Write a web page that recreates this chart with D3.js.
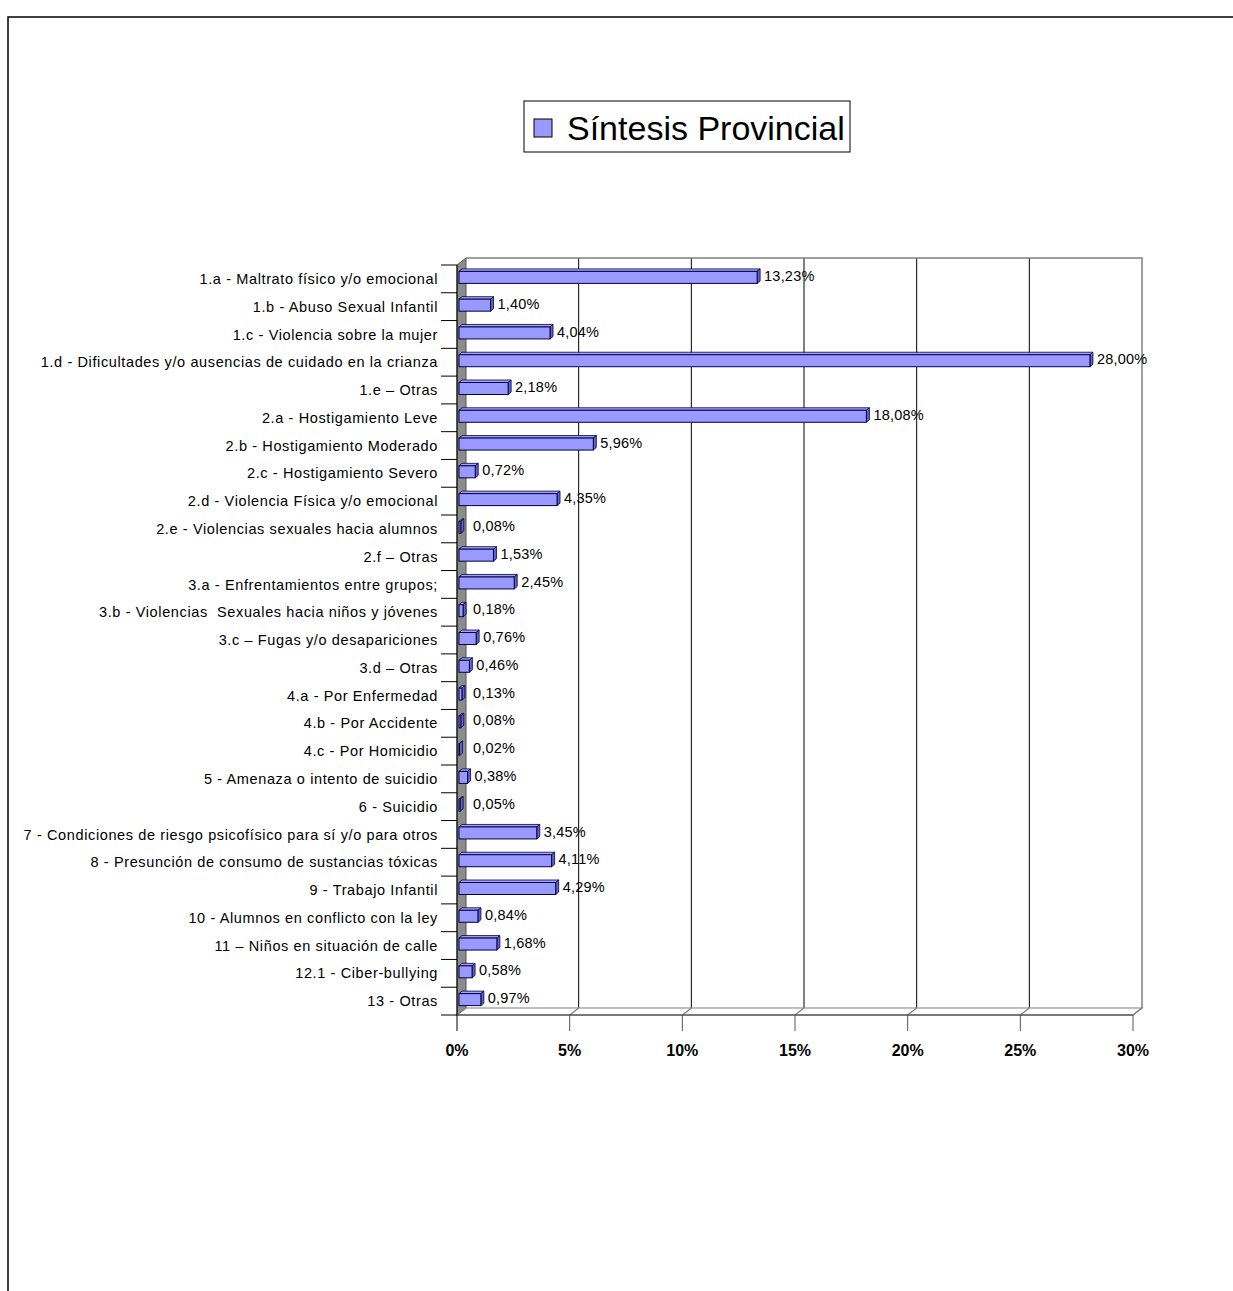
<!DOCTYPE html>
<html>
<head>
<meta charset="utf-8">
<script src="https://cdn.jsdelivr.net/npm/d3@7"></script>
<style>
  body { margin: 0; background: #fff; }
  svg { font-family: "Liberation Sans", Arial, sans-serif; }
</style>
</head>
<body>
<div class="svgcontainer"></div>
<script>
const categories = [
  "1.a - Maltrato físico y/o emocional",
  "1.b - Abuso Sexual Infantil",
  "1.c - Violencia sobre la mujer",
  "1.d - Dificultades y/o ausencias de cuidado en la crianza",
  "1.e \u2013 Otras",
  "2.a - Hostigamiento Leve",
  "2.b - Hostigamiento Moderado",
  "2.c - Hostigamiento Severo",
  "2.d - Violencia Física y/o emocional",
  "2.e - Violencias sexuales hacia alumnos",
  "2.f \u2013 Otras",
  "3.a - Enfrentamientos entre grupos;",
  "3.b - Violencias\u00a0 Sexuales hacia niños y jóvenes",
  "3.c \u2013 Fugas y/o desapariciones",
  "3.d \u2013 Otras",
  "4.a - Por Enfermedad",
  "4.b - Por Accidente",
  "4.c - Por Homicidio",
  "5 - Amenaza o intento de suicidio",
  "6 - Suicidio",
  "7 - Condiciones de riesgo psicofísico para sí y/o para otros",
  "8 - Presunción de consumo de sustancias tóxicas",
  "9 - Trabajo Infantil",
  "10 - Alumnos en conflicto con la ley",
  "11 \u2013 Niños en situación de calle",
  "12.1 - Ciber-bullying",
  "13 - Otras"
];
const values = [13.23, 1.40, 4.04, 28.00, 2.18, 18.08, 5.96, 0.72, 4.35, 0.08, 1.53, 2.45, 0.18,
  0.76, 0.46, 0.13, 0.08, 0.02, 0.38, 0.05, 3.45, 4.11, 4.29, 0.84, 1.68, 0.58, 0.97];
const xTicks = [0, 5, 10, 15, 20, 25, 30];
const seriesName = "Síntesis Provincial";

const W = 1233, H = 1291;
const svg = d3.select('.svgcontainer').append('svg')
  .attr('width', W).attr('height', H);

// outer frame (only top and left edges are visible)
svg.append('path').attr('d', `M8,${H} L8,17 L${W},17`)
  .attr('fill', 'none').attr('stroke', '#000').attr('stroke-width', 1.5);

// scales
const x = d3.scaleLinear().domain([0, 30]).range([457, 1133]);
const y = d3.scaleBand().domain(categories).range([265, 1015]);
const dx = 9, dy = -7;   // depth of the 3d box
const top0 = y.range()[0], bot0 = y.range()[1];

// left wall
svg.append('polygon')
  .attr('points', [[x(0), top0], [x(0) + dx, top0 + dy], [x(0) + dx, bot0 + dy], [x(0), bot0]].join(' '))
  .attr('fill', '#8c8c8c').attr('stroke', '#555');

// back wall gridlines
svg.selectAll('.grid').data(xTicks.slice(1, -1)).enter().append('line')
  .attr('x1', d => x(d) + dx).attr('x2', d => x(d) + dx)
  .attr('y1', top0 + dy).attr('y2', bot0 + dy)
  .attr('stroke', '#000');

// back wall outline (top + right)
svg.append('path')
  .attr('d', `M${x(0) + dx},${top0 + dy} L${x(30) + dx},${top0 + dy} L${x(30) + dx},${bot0 + dy}`)
  .attr('fill', 'none').attr('stroke', '#808080').attr('stroke-width', 1.5);

// floor
svg.append('polygon')
  .attr('points', [[x(0), bot0], [x(0) + dx, bot0 + dy], [x(30) + dx, bot0 + dy], [x(30), bot0]].join(' '))
  .attr('fill', '#fff').attr('stroke', '#808080').attr('stroke-width', 1.2);
svg.selectAll('.floorline').data(xTicks.slice(1)).enter().append('line')
  .attr('x1', d => x(d)).attr('x2', d => x(d) + dx)
  .attr('y1', bot0).attr('y2', bot0 + dy)
  .attr('stroke', '#808080').attr('stroke-width', 1.2);

// category axis line + ticks
svg.append('line').attr('x1', x(0)).attr('x2', x(0)).attr('y1', top0).attr('y2', bot0)
  .attr('stroke', '#000');
const bounds = categories.map(c => y(c)).concat([bot0]);
svg.selectAll('.ytick').data(bounds).enter().append('line')
  .attr('x1', 441).attr('x2', x(0)).attr('y1', d => d).attr('y2', d => d)
  .attr('stroke', '#000');
svg.append('line').attr('x1', x(0)).attr('x2', x(30)).attr('y1', bot0).attr('y2', bot0)
  .attr('stroke', '#333');

// value axis ticks and labels
svg.selectAll('.xtick').data(xTicks).enter().append('line')
  .attr('x1', d => x(d)).attr('x2', d => x(d)).attr('y1', bot0).attr('y2', bot0 + 16)
  .attr('stroke', d => d === 0 ? '#000' : '#555');
svg.selectAll('.xlab').data(xTicks).enter().append('text')
  .attr('x', d => x(d)).attr('y', bot0 + 41)
  .attr('text-anchor', 'middle').attr('font-size', 16).attr('font-weight', 'bold')
  .text(d => d + '%');

// category labels
svg.selectAll('.ylab').data(categories).enter().append('text')
  .attr('x', 438).attr('y', d => y(d) + y.bandwidth() / 2)
  .attr('dy', '0.35em').attr('text-anchor', 'end').attr('font-size', 14.5)
  .attr('letter-spacing', 0.62)
  .text(d => d);

// 3d bars
const bf = { x: 2, y: -1.5 }, bb = { x: 5, y: -4 };
const bh = 12;
const bars = svg.selectAll('.bar').data(categories.map((c, i) => ({ c, v: values[i] })))
  .enter().append('g').attr('class', 'bar');
bars.each(function (d) {
  const g = d3.select(this);
  const cy = y(d.c) + y.bandwidth() / 2 + bf.y;
  const yt = cy - bh / 2, yb = cy + bh / 2;
  const x0 = x(0) + bf.x, x1 = x(d.v) + bf.x;
  const ox = bb.x - bf.x, oy = bb.y - bf.y;
  g.append('polygon')
    .attr('points', [[x0, yt], [x0 + ox, yt + oy], [x1 + ox, yt + oy], [x1, yt]].join(' '))
    .attr('fill', '#a3a3ff').attr('stroke', '#000040').attr('stroke-width', 0.8);
  g.append('polygon')
    .attr('points', [[x1, yt], [x1 + ox, yt + oy], [x1 + ox, yb + oy], [x1, yb]].join(' '))
    .attr('fill', '#6363c0').attr('stroke', '#000040').attr('stroke-width', 0.8);
  g.append('rect')
    .attr('x', x0).attr('y', yt).attr('width', Math.max(0, x1 - x0)).attr('height', bh)
    .attr('fill', '#9999ff').attr('stroke', '#000040').attr('stroke-width', 1);
  g.append('text')
    .attr('x', Math.max(x1 + ox + 4, 473)).attr('y', cy - 1.5)
    .attr('dy', '0.35em').attr('font-size', 14.5).attr('letter-spacing', 0.2)
    .text(d3.format('.2f')(d.v).replace('.', ',') + '%');
});

// legend
const lg = svg.append('g').attr('transform', 'translate(524,101)');
lg.append('rect').attr('width', 326).attr('height', 51)
  .attr('fill', '#fff').attr('stroke', '#000');
lg.append('rect').attr('x', 10).attr('y', 18).attr('width', 18).attr('height', 18)
  .attr('fill', '#9999ff').attr('stroke', '#000');
lg.append('text').attr('x', 43).attr('y', 27).attr('dy', '0.36em')
  .attr('font-size', 34).text(seriesName);
</script>
</body>
</html>
